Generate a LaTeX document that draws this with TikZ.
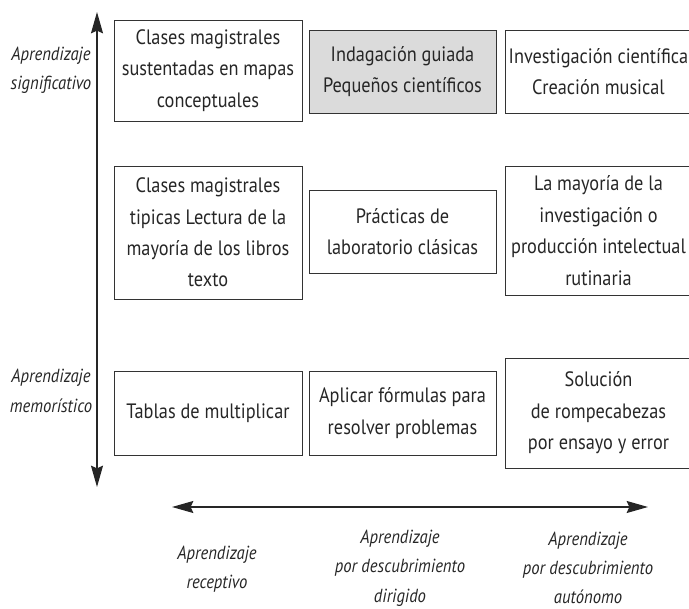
\documentclass[tikz,border=0pt]{standalone}
\usepackage{fontspec}
\setmainfont{PT Sans}[FakeStretch=0.88]
\usetikzlibrary{arrows.meta}

\tikzset{
  cell/.style={draw=black!80, line width=0.7pt, align=center, inner sep=0pt,
    font=\fontsize{15.6}{23.6}\selectfont, text=black!85},
  axislabel/.style={align=center, inner sep=0pt,
    font=\fontsize{14.2}{22}\selectfont\itshape, text=black!85},
  axis/.style={line width=0.9pt, black!85,
    {Stealth[length=16pt, width=9pt, inset=2pt]}-{Stealth[length=16pt, width=9pt, inset=2pt]}}
}

\begin{document}
\begin{tikzpicture}[x=0.75pt, y=-0.75pt]
            \useasboundingbox (0,0) rectangle (689,609);
            % fila superior
            \node[cell, minimum width=141pt, minimum height=75.75pt] at (208,70.5) (clases) {Clases magistrales\\sustentadas en mapas\\conceptuales};
            \node[cell, fill=black!14, minimum width=140.25pt, minimum height=62.25pt] at (402.5,71.5) (indagacion) {Indagación guiada\\Pequeños científicos};
            \node[cell, minimum width=140.25pt, minimum height=62.25pt] at (598.5,71.5) (investigacion) {Investigación científica\\Creación musical};
            % fila central
            \node[cell, minimum width=141pt, minimum height=99.75pt] at (208,232.5) (tipicas) {Clases magistrales\\tipicas Lectura de la\\mayoría de los libros\\texto};
            \node[cell, minimum width=140.25pt, minimum height=62.25pt] at (402.5,231.5) (practicas) {Prácticas de\\laboratorio clásicas};
            \node[cell, minimum width=140.25pt, minimum height=96.75pt] at (598.5,230.5) (rutinaria) {La mayoría de la\\investigación o\\producción intelectual\\rutinaria};
            % fila inferior
            \node[cell, minimum width=141pt, minimum height=63pt] at (208,413) (tablas) {Tablas de multiplicar};
            \node[cell, minimum width=140.25pt, minimum height=63pt] at (402.5,413) (formulas) {Aplicar fórmulas para\\resolver problemas};
            \node[cell, minimum width=140.25pt, minimum height=82.5pt] at (598.5,413) (solucion) {Solución\\de rompecabezas\\por ensayo y error};
            % ejes
            \coordinate (arriba) at (97,12);
            \coordinate (abajo) at (97,487);
            \draw[axis] (abajo) -- (arriba);
            \coordinate (izq) at (172,507);
            \coordinate (der) at (648,507);
            \draw[axis] (izq) -- (der);
            % etiquetas
            \node[axislabel] at (51,70) (significativo) {Aprendizaje\\significativo};
            \node[axislabel] at (51,391) (memoristico) {Aprendizaje\\memorístico};
            \node[axislabel] at (217,569) (receptivo) {Aprendizaje\\receptivo};
            \node[axislabel] at (400,568) (dirigido) {Aprendizaje\\por descubrimiento\\dirigido};
            \node[axislabel] at (588,568) (autonomo) {Aprendizaje\\por descubrimiento\\autónomo};
        \end{tikzpicture}
\end{document}
